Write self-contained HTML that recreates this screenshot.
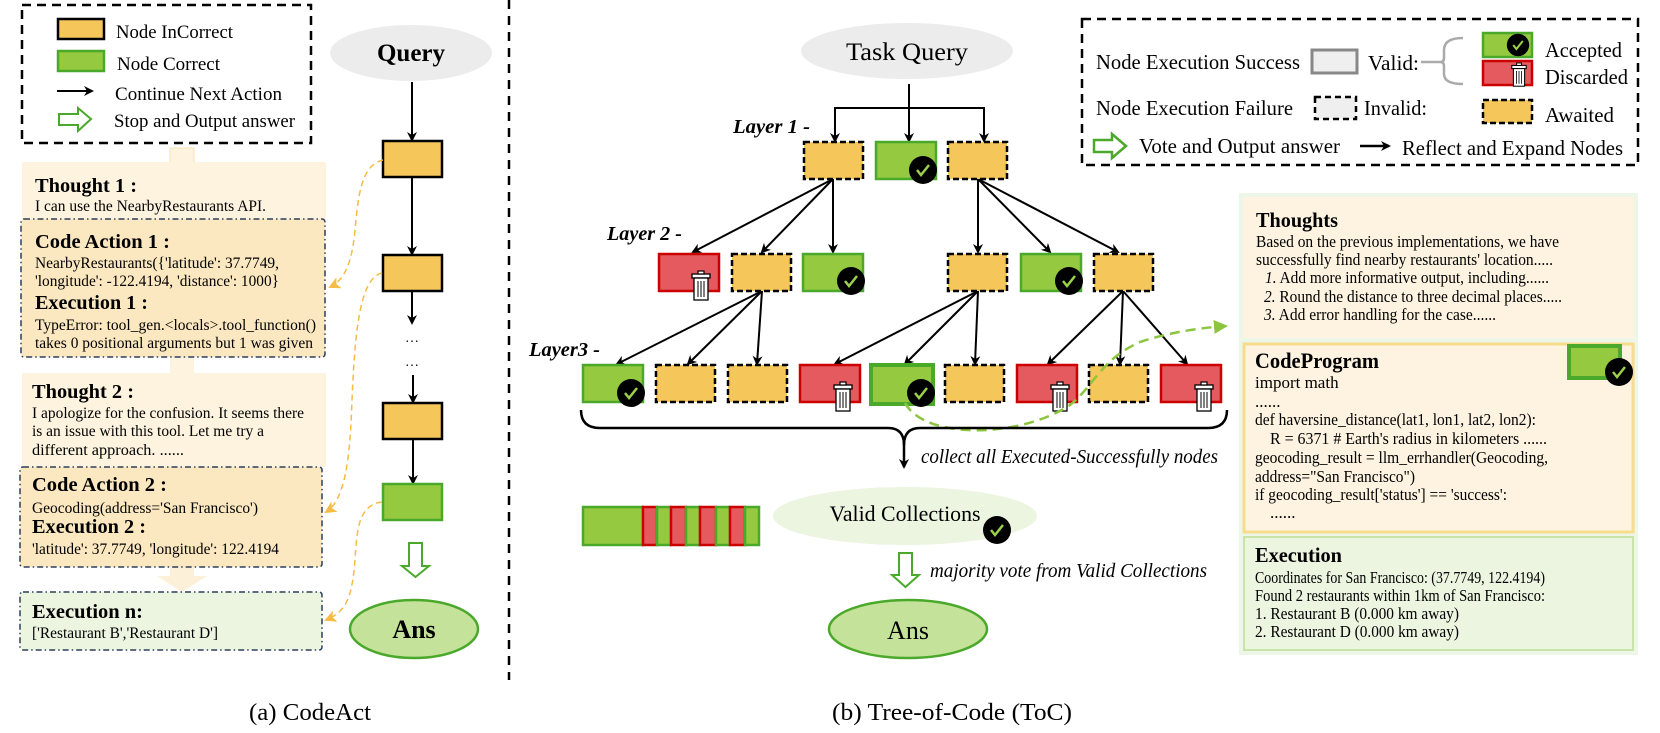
<!DOCTYPE html>
<html><head><meta charset="utf-8"><style>
html,body{margin:0;padding:0;background:#fff;}
svg{display:block;font-family:"Liberation Serif",serif;}
</style></head><body>
<svg width="1660" height="733" viewBox="0 0 1660 733" xmlns="http://www.w3.org/2000/svg">
<defs>
<marker id="ah" markerWidth="10" markerHeight="10" refX="8" refY="5" orient="auto" markerUnits="userSpaceOnUse"><path d="M0,0 L10,5 L0,10 L3,5 z" fill="#000"/></marker>
<marker id="oh" markerWidth="12" markerHeight="12" refX="10" refY="6" orient="auto" markerUnits="userSpaceOnUse"><path d="M0,0 L12,6 L0,12 L3,6 z" fill="#f5bc45"/></marker>
<marker id="gh" markerWidth="14" markerHeight="14" refX="12" refY="7" orient="auto" markerUnits="userSpaceOnUse"><path d="M0,0 L14,7 L0,14 z" fill="#8cc63f"/></marker>
<g id="chk"><circle cx="0" cy="0" r="14" fill="#000"/><path d="M-6,0 L-2,5 L6,-5" stroke="#9bd14a" stroke-width="2.5" fill="none"/></g>
<g id="trash"><rect x="-9" y="-12" width="18" height="4" fill="#fff" stroke="#000" stroke-width="1.3"/><rect x="-3" y="-15" width="6" height="3" fill="#fff" stroke="#000" stroke-width="1.2"/><rect x="-7" y="-8" width="14" height="22" fill="#fff" stroke="#000" stroke-width="1.3"/><path d="M-3,-5 V11 M0,-5 V11 M3,-5 V11" stroke="#000" stroke-width="1"/></g>
</defs>

<rect x="22" y="5" width="289" height="138" fill="none" stroke="#000" stroke-width="2.5" stroke-dasharray="9,6"/>
<rect x="58" y="19" width="46" height="20" fill="#f5c65a" stroke="#000" stroke-width="2.5"/>
<text x="116" y="38" font-size="19" textLength="117" lengthAdjust="spacingAndGlyphs">Node InCorrect</text>
<rect x="58" y="51" width="46" height="20" fill="#95c940" stroke="#4aa82a" stroke-width="2.5"/>
<text x="117" y="70" font-size="19" textLength="103" lengthAdjust="spacingAndGlyphs">Node Correct</text>
<line x1="57" y1="91" x2="92" y2="91" stroke="#000" stroke-width="2" marker-end="url(#ah)"/>
<text x="115" y="100" font-size="19" textLength="167" lengthAdjust="spacingAndGlyphs">Continue Next Action</text>
<path d="M59,114 H78 V108 L91,119 L78,131 V125 H59 z" fill="#fff" stroke="#4aa82a" stroke-width="2"/>
<text x="114" y="127" font-size="19" textLength="181" lengthAdjust="spacingAndGlyphs">Stop and Output answer</text>

<rect x="170" y="148" width="24" height="16" fill="#fdf3df" stroke="#f7e1b5" stroke-width="1"/>
<rect x="170" y="357" width="24" height="16" fill="#fdf3df"/>
<path d="M170,567 H194 V576 H207 L182,592 L157,576 H170 z" fill="#fdf0d8"/>

<rect x="22" y="162" width="304" height="58" fill="#fdf3df"/>
<text x="35" y="192" font-size="20" font-weight="bold" textLength="102" lengthAdjust="spacingAndGlyphs">Thought 1 :</text>
<text x="35" y="211" font-size="15.5" textLength="231" lengthAdjust="spacingAndGlyphs">I can use the NearbyRestaurants API.</text>

<rect x="21" y="219" width="304" height="138" rx="3" fill="#fbe8c0" stroke="#2c3e5c" stroke-width="1.5" stroke-dasharray="6,3,1.5,3"/>
<text x="35" y="248" font-size="20" font-weight="bold" textLength="135" lengthAdjust="spacingAndGlyphs">Code Action 1 :</text>
<text x="35" y="268" font-size="15.5" textLength="244" lengthAdjust="spacingAndGlyphs">NearbyRestaurants({'latitude': 37.7749,</text>
<text x="35" y="286" font-size="15.5" textLength="244" lengthAdjust="spacingAndGlyphs">'longitude': -122.4194, 'distance': 1000}</text>
<text x="35" y="309" font-size="20" font-weight="bold" textLength="113" lengthAdjust="spacingAndGlyphs">Execution 1 :</text>
<text x="35" y="330" font-size="15.5" textLength="281" lengthAdjust="spacingAndGlyphs">TypeError: tool_gen.&lt;locals&gt;.tool_function()</text>
<text x="35" y="348" font-size="15.5" textLength="278" lengthAdjust="spacingAndGlyphs">takes 0 positional arguments but 1 was given</text>

<rect x="22" y="373" width="304" height="94" fill="#fdf3df"/>
<text x="32" y="398" font-size="20" font-weight="bold" textLength="102" lengthAdjust="spacingAndGlyphs">Thought 2 :</text>
<text x="32" y="418" font-size="15.5" textLength="272" lengthAdjust="spacingAndGlyphs">I apologize for the confusion. It seems there</text>
<text x="32" y="436" font-size="15.5" textLength="232" lengthAdjust="spacingAndGlyphs">is an issue with this tool. Let me try a</text>
<text x="32" y="455" font-size="15.5" textLength="152" lengthAdjust="spacingAndGlyphs">different approach.   ......</text>

<rect x="20" y="467" width="302" height="100" rx="3" fill="#fbe8c0" stroke="#2c3e5c" stroke-width="1.5" stroke-dasharray="6,3,1.5,3"/>
<text x="32" y="491" font-size="20" font-weight="bold" textLength="135" lengthAdjust="spacingAndGlyphs">Code Action 2 :</text>
<text x="32" y="513" font-size="15.5" textLength="226" lengthAdjust="spacingAndGlyphs">Geocoding(address='San Francisco')</text>
<text x="32" y="533" font-size="20" font-weight="bold" textLength="114" lengthAdjust="spacingAndGlyphs">Execution 2 :</text>
<text x="32" y="554" font-size="15.5" textLength="247" lengthAdjust="spacingAndGlyphs">'latitude': 37.7749, 'longitude': 122.4194</text>

<rect x="20" y="592" width="302" height="58" rx="3" fill="#ebf5e0" stroke="#2c3e5c" stroke-width="1.5" stroke-dasharray="6,3,1.5,3"/>
<text x="32" y="618" font-size="20" font-weight="bold" textLength="111" lengthAdjust="spacingAndGlyphs">Execution n:</text>
<text x="32" y="638" font-size="15.5" textLength="186" lengthAdjust="spacingAndGlyphs">['Restaurant B','Restaurant D']</text>

<ellipse cx="411" cy="53" rx="81" ry="28" fill="#ececec"/>
<text x="411" y="61" font-size="25" font-weight="bold" text-anchor="middle">Query</text>
<line x1="412" y1="82" x2="412" y2="140" stroke="#000" stroke-width="2" marker-end="url(#ah)"/>
<rect x="383" y="141" width="59" height="36" fill="#f5c65a" stroke="#000" stroke-width="2.5"/>
<line x1="412" y1="177" x2="412" y2="254" stroke="#000" stroke-width="2" marker-end="url(#ah)"/>
<rect x="383" y="255" width="59" height="36" fill="#f5c65a" stroke="#000" stroke-width="2.5"/>
<line x1="412" y1="291" x2="412" y2="323" stroke="#000" stroke-width="2" marker-end="url(#ah)"/>
<text x="412" y="342" font-size="14" text-anchor="middle">…</text>
<text x="412" y="366" font-size="14" text-anchor="middle">…</text>
<line x1="413" y1="375" x2="413" y2="402" stroke="#000" stroke-width="2" marker-end="url(#ah)"/>
<rect x="383" y="403" width="59" height="36" fill="#f5c65a" stroke="#000" stroke-width="2.5"/>
<line x1="413" y1="439" x2="413" y2="483" stroke="#000" stroke-width="2" marker-end="url(#ah)"/>
<rect x="383" y="484" width="59" height="36" fill="#95c940" stroke="#4aa82a" stroke-width="2.5"/>
<path d="M409,543 H422 V566 H429 L415.5,577 L402,566 H409 z" fill="#fff" stroke="#4aa82a" stroke-width="2"/>
<ellipse cx="414" cy="629" rx="64" ry="29" fill="#c5e29a" stroke="#4aa82a" stroke-width="2.5"/>
<text x="414" y="638" font-size="26" font-weight="bold" text-anchor="middle">Ans</text>

<path d="M383,160 C360,165 358,200 355,230 C352,262 345,280 330,287" fill="none" stroke="#f5bc45" stroke-width="1.5" stroke-dasharray="6,4" marker-end="url(#oh)"/>
<path d="M382,273 C360,278 355,330 352,400 C350,460 345,500 326,512" fill="none" stroke="#f5bc45" stroke-width="1.5" stroke-dasharray="6,4" marker-end="url(#oh)"/>
<path d="M382,502 C358,505 357,530 355,560 C352,600 345,612 326,620" fill="none" stroke="#f5bc45" stroke-width="1.5" stroke-dasharray="6,4" marker-end="url(#oh)"/>

<line x1="509" y1="0" x2="509" y2="680" stroke="#000" stroke-width="2.5" stroke-dasharray="9,7"/>
<text x="310" y="720" font-size="24" text-anchor="middle" textLength="122" lengthAdjust="spacingAndGlyphs">(a) CodeAct</text>

<ellipse cx="907" cy="51" rx="106" ry="28" fill="#ececec"/>
<text x="907" y="60" font-size="25" text-anchor="middle" textLength="122" lengthAdjust="spacingAndGlyphs">Task Query</text>
<line x1="909" y1="84" x2="909" y2="141" stroke="#000" stroke-width="2" marker-end="url(#ah)"/>
<path d="M835,141 V108 H984 V141" fill="none" stroke="#000" stroke-width="2"/>
<line x1="835" y1="120" x2="835" y2="141" stroke="#000" stroke-width="2" marker-end="url(#ah)"/>
<line x1="984" y1="120" x2="984" y2="141" stroke="#000" stroke-width="2" marker-end="url(#ah)"/>

<text x="733" y="133" font-size="20" font-weight="bold" font-style="italic" textLength="77" lengthAdjust="spacingAndGlyphs">Layer 1 -</text>
<text x="607" y="240" font-size="20" font-weight="bold" font-style="italic" textLength="75" lengthAdjust="spacingAndGlyphs">Layer 2 -</text>
<text x="529" y="356" font-size="20" font-weight="bold" font-style="italic" textLength="71" lengthAdjust="spacingAndGlyphs">Layer3 -</text>

<g stroke="#000" stroke-width="2" marker-end="url(#ah)">
<line x1="833" y1="179" x2="693" y2="252"/><line x1="833" y1="179" x2="762" y2="252"/><line x1="833" y1="179" x2="833" y2="252"/>
<line x1="978" y1="179" x2="978" y2="252"/><line x1="978" y1="179" x2="1050" y2="252"/><line x1="978" y1="179" x2="1118" y2="252"/>
<line x1="762" y1="291" x2="617" y2="364"/><line x1="762" y1="291" x2="688" y2="364"/><line x1="762" y1="291" x2="757" y2="364"/>
<line x1="978" y1="291" x2="835" y2="364"/><line x1="978" y1="291" x2="905" y2="364"/><line x1="978" y1="291" x2="975" y2="364"/>
<line x1="1123" y1="291" x2="1048" y2="364"/><line x1="1123" y1="291" x2="1120" y2="364"/><line x1="1123" y1="291" x2="1187" y2="364"/>
</g>

<g stroke-width="2.5">
<rect x="804" y="142" width="59" height="37" fill="#f5c65a" stroke="#000" stroke-dasharray="6,3"/>
<rect x="876" y="142" width="60" height="37" fill="#95c940" stroke="#4aa82a"/>
<rect x="948" y="142" width="59" height="37" fill="#f5c65a" stroke="#000" stroke-dasharray="6,3"/>
<rect x="659" y="254" width="60" height="37" fill="#e45a5f" stroke="#cc0000"/>
<rect x="732" y="254" width="59" height="37" fill="#f5c65a" stroke="#000" stroke-dasharray="6,3"/>
<rect x="803" y="254" width="60" height="37" fill="#95c940" stroke="#4aa82a"/>
<rect x="948" y="254" width="59" height="37" fill="#f5c65a" stroke="#000" stroke-dasharray="6,3"/>
<rect x="1021" y="254" width="60" height="37" fill="#95c940" stroke="#4aa82a"/>
<rect x="1094" y="254" width="59" height="37" fill="#f5c65a" stroke="#000" stroke-dasharray="6,3"/>
<rect x="583" y="365" width="60" height="37" fill="#95c940" stroke="#4aa82a"/>
<rect x="656" y="365" width="59" height="37" fill="#f5c65a" stroke="#000" stroke-dasharray="6,3"/>
<rect x="728" y="365" width="59" height="37" fill="#f5c65a" stroke="#000" stroke-dasharray="6,3"/>
<rect x="800" y="365" width="60" height="37" fill="#e45a5f" stroke="#cc0000"/>
<rect x="871" y="365" width="62" height="39" fill="#95c940" stroke="#4aa82a" stroke-width="4"/>
<rect x="945" y="365" width="59" height="37" fill="#f5c65a" stroke="#000" stroke-dasharray="6,3"/>
<rect x="1017" y="365" width="60" height="37" fill="#e45a5f" stroke="#cc0000"/>
<rect x="1089" y="365" width="59" height="37" fill="#f5c65a" stroke="#000" stroke-dasharray="6,3"/>
<rect x="1161" y="365" width="60" height="37" fill="#e45a5f" stroke="#cc0000"/>
</g>
<use href="#chk" x="923" y="170"/>
<use href="#chk" x="851" y="281"/>
<use href="#chk" x="1069" y="281"/>
<use href="#chk" x="631" y="393"/>
<use href="#chk" x="921" y="393"/>
<use href="#trash" x="701" y="286"/>
<use href="#trash" x="843" y="397"/>
<use href="#trash" x="1060" y="397"/>
<use href="#trash" x="1204" y="397"/>

<path d="M905,403 C925,440 1020,438 1070,405 C1095,385 1100,360 1140,342 C1170,332 1200,328 1226,326" fill="none" stroke="#8cc63f" stroke-width="2.5" stroke-dasharray="10,6" marker-end="url(#gh)"/>

<path d="M581,410 Q581,428 600,428 H888 Q904,428 904,445 Q904,428 920,428 H1208 Q1227,428 1227,410" fill="none" stroke="#000" stroke-width="2.5"/>
<line x1="904" y1="440" x2="904" y2="467" stroke="#000" stroke-width="2.5" marker-end="url(#ah)"/>
<text x="921" y="463" font-size="20" font-style="italic" textLength="297" lengthAdjust="spacingAndGlyphs">collect all Executed-Successfully nodes</text>

<g stroke-width="2.5">
<rect x="583" y="507" width="60" height="38" fill="#95c940" stroke="#4aa82a"/>
<rect x="643" y="507" width="14" height="38" fill="#e45a5f" stroke="#cc0000"/>
<rect x="657" y="507" width="14" height="38" fill="#95c940" stroke="#4aa82a"/>
<rect x="671" y="507" width="15" height="38" fill="#e45a5f" stroke="#cc0000"/>
<rect x="686" y="507" width="14" height="38" fill="#95c940" stroke="#4aa82a"/>
<rect x="700" y="507" width="16" height="38" fill="#e45a5f" stroke="#cc0000"/>
<rect x="716" y="507" width="14" height="38" fill="#95c940" stroke="#4aa82a"/>
<rect x="730" y="507" width="15" height="38" fill="#e45a5f" stroke="#cc0000"/>
<rect x="745" y="507" width="14" height="38" fill="#95c940" stroke="#4aa82a"/>
</g>

<ellipse cx="905" cy="516" rx="132" ry="29" fill="#ebf5e0"/>
<text x="905" y="521" font-size="22" text-anchor="middle" textLength="151" lengthAdjust="spacingAndGlyphs">Valid Collections</text>
<use href="#chk" x="997" y="530"/>
<path d="M899,553 H912 V575 H919 L905.5,587 L892,575 H899 z" fill="#fff" stroke="#4aa82a" stroke-width="2"/>
<text x="930" y="577" font-size="20" font-style="italic" textLength="277" lengthAdjust="spacingAndGlyphs">majority vote from Valid Collections</text>
<ellipse cx="908" cy="629" rx="79" ry="29" fill="#c5e29a" stroke="#4aa82a" stroke-width="2.5"/>
<text x="908" y="639" font-size="26" text-anchor="middle">Ans</text>
<text x="952" y="720" font-size="24" text-anchor="middle" textLength="240" lengthAdjust="spacingAndGlyphs">(b) Tree-of-Code (ToC)</text>

<rect x="1082" y="19" width="556" height="146" fill="none" stroke="#000" stroke-width="2.5" stroke-dasharray="9,6"/>
<text x="1096" y="69" font-size="21" textLength="204" lengthAdjust="spacingAndGlyphs">Node Execution Success</text>
<rect x="1312" y="50" width="45" height="23" fill="#efefef" stroke="#888" stroke-width="3"/>
<text x="1368" y="70" font-size="21" textLength="51" lengthAdjust="spacingAndGlyphs">Valid:</text>
<path d="M1421,62 H1440 M1463,38 Q1444,38 1444,50 V58 Q1444,62 1440,62 Q1444,62 1444,66 V74 Q1444,84 1463,84" fill="none" stroke="#aaa" stroke-width="2.5"/>
<rect x="1483" y="33" width="49" height="24" fill="#95c940" stroke="#4aa82a" stroke-width="2.5"/>
<use href="#chk" transform="translate(1518,45) scale(0.8)"/>
<text x="1545" y="57" font-size="21" textLength="77" lengthAdjust="spacingAndGlyphs">Accepted</text>
<rect x="1483" y="61" width="49" height="24" fill="#e45a5f" stroke="#cc0000" stroke-width="2.5"/>
<use href="#trash" transform="translate(1519,75) scale(0.8)"/>
<text x="1545" y="84" font-size="21" textLength="83" lengthAdjust="spacingAndGlyphs">Discarded</text>
<text x="1096" y="115" font-size="21" textLength="197" lengthAdjust="spacingAndGlyphs">Node Execution Failure</text>
<rect x="1315" y="97" width="41" height="22" fill="#efefef" stroke="#000" stroke-width="2.5" stroke-dasharray="6,4"/>
<text x="1364" y="115" font-size="21" textLength="63" lengthAdjust="spacingAndGlyphs">Invalid:</text>
<rect x="1483" y="100" width="49" height="23" fill="#f5c65a" stroke="#000" stroke-width="2.5" stroke-dasharray="6,3"/>
<text x="1545" y="122" font-size="21" textLength="69" lengthAdjust="spacingAndGlyphs">Awaited</text>
<path d="M1094,140 H1112 V134 L1126,146 L1112,158 V152 H1094 z" fill="#fff" stroke="#4aa82a" stroke-width="2.5"/>
<text x="1139" y="153" font-size="21" textLength="201" lengthAdjust="spacingAndGlyphs">Vote and Output answer</text>
<line x1="1360" y1="146" x2="1389" y2="146" stroke="#000" stroke-width="2.5" marker-end="url(#ah)"/>
<text x="1402" y="155" font-size="21" textLength="221" lengthAdjust="spacingAndGlyphs">Reflect and Expand Nodes</text>

<rect x="1239" y="193" width="399" height="462" fill="#eef6e8"/>
<rect x="1243" y="197" width="391" height="141" fill="#fdf3e0"/>
<text x="1256" y="227" font-size="21" font-weight="bold" textLength="82" lengthAdjust="spacingAndGlyphs">Thoughts</text>
<text x="1256" y="247" font-size="17" textLength="303" lengthAdjust="spacingAndGlyphs">Based on the previous implementations, we have</text>
<text x="1256" y="265" font-size="17" textLength="297" lengthAdjust="spacingAndGlyphs">successfully find nearby restaurants' location.....</text>
<text x="1265" y="283" font-size="17" textLength="284" lengthAdjust="spacingAndGlyphs"><tspan font-style="italic">1.</tspan> Add more informative output, including......</text>
<text x="1264" y="302" font-size="17" textLength="298" lengthAdjust="spacingAndGlyphs"><tspan font-style="italic">2.</tspan> Round the distance to three decimal places.....</text>
<text x="1264" y="320" font-size="17" textLength="232" lengthAdjust="spacingAndGlyphs"><tspan font-style="italic">3.</tspan> Add error handling for the case......</text>

<rect x="1244" y="344" width="389" height="188" fill="#fdf3e0" stroke="#f7dc8c" stroke-width="3"/>
<text x="1255" y="368" font-size="22" font-weight="bold" textLength="124" lengthAdjust="spacingAndGlyphs">CodeProgram</text>
<text x="1255" y="388" font-size="17">import math</text>
<text x="1255" y="407" font-size="17">......</text>
<text x="1255" y="425" font-size="17" textLength="281" lengthAdjust="spacingAndGlyphs">def haversine_distance(lat1, lon1, lat2, lon2):</text>
<text x="1270" y="444" font-size="17" textLength="277" lengthAdjust="spacingAndGlyphs">R = 6371  # Earth's radius in kilometers  ......</text>
<text x="1255" y="463" font-size="17" textLength="293" lengthAdjust="spacingAndGlyphs">geocoding_result = llm_errhandler(Geocoding,</text>
<text x="1255" y="482" font-size="17" textLength="160" lengthAdjust="spacingAndGlyphs">address="San Francisco")</text>
<text x="1255" y="500" font-size="17" textLength="252" lengthAdjust="spacingAndGlyphs">if geocoding_result['status'] == 'success':</text>
<text x="1270" y="518" font-size="17">......</text>
<rect x="1569" y="346" width="51" height="32" fill="#95c940" stroke="#4aa82a" stroke-width="4"/>
<use href="#chk" x="1619" y="372"/>

<rect x="1244" y="537" width="389" height="113" fill="#ebf5e0" stroke="#c9e4a8" stroke-width="2"/>
<text x="1255" y="562" font-size="21" font-weight="bold" textLength="87" lengthAdjust="spacingAndGlyphs">Execution</text>
<text x="1255" y="583" font-size="17" textLength="290" lengthAdjust="spacingAndGlyphs">Coordinates for San Francisco: (37.7749, 122.4194)</text>
<text x="1255" y="601" font-size="17" textLength="290" lengthAdjust="spacingAndGlyphs">Found 2 restaurants within 1km of San Francisco:</text>
<text x="1255" y="619" font-size="17" textLength="204" lengthAdjust="spacingAndGlyphs">1. Restaurant B (0.000 km away)</text>
<text x="1255" y="637" font-size="17" textLength="204" lengthAdjust="spacingAndGlyphs">2. Restaurant D (0.000 km away)</text>
</svg>
</body></html>
